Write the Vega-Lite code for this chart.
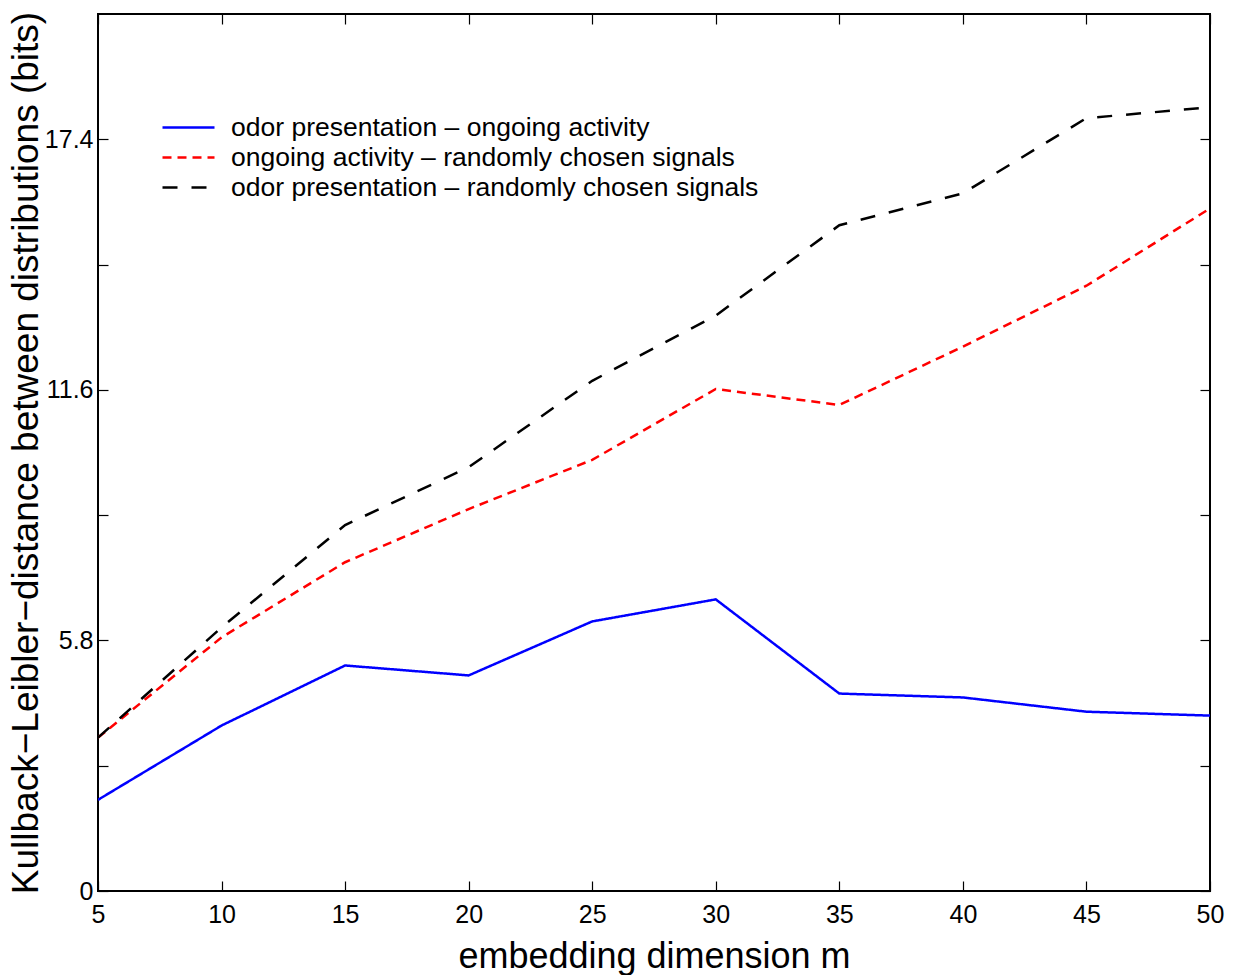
{
  "$schema": "https://vega.github.io/schema/vega-lite/v6.json",
  "width": 1112,
  "height": 877,
  "autosize": "none",
  "padding": {"left": 98, "top": 14, "right": 28, "bottom": 84},
  "background": "white",
  "config": {
    "font": "Liberation Sans",
    "view": {"stroke": "black", "strokeWidth": 2},
    "axis": {
      "domain": false,
      "grid": false,
      "ticks": true,
      "tickColor": "black",
      "tickSize": -10,
      "tickWidth": 1.2,
      "labelFont": "Liberation Sans",
      "labelFontSize": 25,
      "labelColor": "black",
      "labelFlush": false,
      "titleFont": "Liberation Sans",
      "titleFontSize": 36,
      "titleFontWeight": "normal",
      "titleColor": "black"
    }
  },
  "data": {
    "values": [
      {"m": 5, "kl": 2.11, "series": "odor presentation – ongoing activity"},
      {"m": 10, "kl": 3.83, "series": "odor presentation – ongoing activity"},
      {"m": 15, "kl": 5.22, "series": "odor presentation – ongoing activity"},
      {"m": 20, "kl": 4.99, "series": "odor presentation – ongoing activity"},
      {"m": 25, "kl": 6.24, "series": "odor presentation – ongoing activity"},
      {"m": 30, "kl": 6.75, "series": "odor presentation – ongoing activity"},
      {"m": 35, "kl": 4.57, "series": "odor presentation – ongoing activity"},
      {"m": 40, "kl": 4.48, "series": "odor presentation – ongoing activity"},
      {"m": 45, "kl": 4.15, "series": "odor presentation – ongoing activity"},
      {"m": 50, "kl": 4.06, "series": "odor presentation – ongoing activity"},
      {"m": 5, "kl": 3.55, "series": "ongoing activity – randomly chosen signals"},
      {"m": 10, "kl": 5.87, "series": "ongoing activity – randomly chosen signals"},
      {"m": 15, "kl": 7.61, "series": "ongoing activity – randomly chosen signals"},
      {"m": 20, "kl": 8.84, "series": "ongoing activity – randomly chosen signals"},
      {"m": 25, "kl": 9.98, "series": "ongoing activity – randomly chosen signals"},
      {"m": 30, "kl": 11.62, "series": "ongoing activity – randomly chosen signals"},
      {"m": 35, "kl": 11.25, "series": "ongoing activity – randomly chosen signals"},
      {"m": 40, "kl": 12.6, "series": "ongoing activity – randomly chosen signals"},
      {"m": 45, "kl": 14.01, "series": "ongoing activity – randomly chosen signals"},
      {"m": 50, "kl": 15.8, "series": "ongoing activity – randomly chosen signals"},
      {"m": 5, "kl": 3.55, "series": "odor presentation – randomly chosen signals"},
      {"m": 10, "kl": 6.1, "series": "odor presentation – randomly chosen signals"},
      {"m": 15, "kl": 8.47, "series": "odor presentation – randomly chosen signals"},
      {"m": 20, "kl": 9.81, "series": "odor presentation – randomly chosen signals"},
      {"m": 25, "kl": 11.81, "series": "odor presentation – randomly chosen signals"},
      {"m": 30, "kl": 13.32, "series": "odor presentation – randomly chosen signals"},
      {"m": 35, "kl": 15.41, "series": "odor presentation – randomly chosen signals"},
      {"m": 40, "kl": 16.15, "series": "odor presentation – randomly chosen signals"},
      {"m": 45, "kl": 17.89, "series": "odor presentation – randomly chosen signals"},
      {"m": 50, "kl": 18.14, "series": "odor presentation – randomly chosen signals"}
    ]
  },
  "layer": [
    {
      "mark": {"type": "line", "strokeWidth": 2.5, "clip": true},
      "encoding": {
        "x": {
          "field": "m",
          "type": "quantitative",
          "scale": {"domain": [5, 50], "nice": false, "zero": false},
          "axis": {
            "orient": "bottom",
            "title": "embedding dimension m",
            "values": [5, 10, 15, 20, 25, 30, 35, 40, 45, 50],
            "labelFontSize": 25,
            "labelFlush": false,
            "labelPadding": 21,
            "titlePadding": 12,
            "titleFontSize": 36
          }
        },
        "y": {
          "field": "kl",
          "type": "quantitative",
          "scale": {"domain": [0, 20.3], "nice": false},
          "axis": {
            "orient": "left",
            "title": "Kullback−Leibler−distance between distributions (bits)",
            "values": [0, 2.9, 5.8, 8.7, 11.6, 14.5, 17.4],
            "labelExpr": "datum.value == 0 ? '0' : (indexof([5.8, 11.6, 17.4], datum.value) >= 0 ? format(datum.value, '.1f') : '')",
            "labelFontSize": 25,
            "labelFlush": false,
            "labelPadding": 15,
            "titlePadding": -1,
            "titleFontSize": 37
          }
        },
        "color": {
          "field": "series",
          "type": "nominal",
          "scale": {
            "domain": ["odor presentation – ongoing activity", "ongoing activity – randomly chosen signals", "odor presentation – randomly chosen signals"],
            "range": ["#0000ff", "#ff0000", "#000000"]
          },
          "legend": {
            "title": null,
            "orient": "none",
            "legendX": 76,
            "legendY": 99,
            "symbolType": "M-2,0H2",
            "symbolSize": 676,
            "symbolStrokeWidth": 2.5,
            "symbolFillColor": "transparent",
            "labelFontSize": 26.5,
            "labelFont": "Liberation Sans",
            "labelColor": "black",
            "labelOffset": 28,
            "rowPadding": 2,
            "labelLimit": 900
          }
        },
        "strokeDash": {
          "field": "series",
          "type": "nominal",
          "scale": {
            "domain": ["odor presentation – ongoing activity", "ongoing activity – randomly chosen signals", "odor presentation – randomly chosen signals"],
            "range": [[1, 0], [9, 6], [15, 14]]
          },
          "legend": {
            "title": null,
            "orient": "none",
            "legendX": 76,
            "legendY": 99,
            "symbolType": "M-2,0H2",
            "symbolSize": 676,
            "symbolStrokeWidth": 2.5,
            "symbolFillColor": "transparent",
            "labelFontSize": 26.5,
            "labelFont": "Liberation Sans",
            "labelColor": "black",
            "labelOffset": 28,
            "rowPadding": 2,
            "labelLimit": 900
          }
        },
        "detail": {"field": "series", "type": "nominal"}
      }
    },
    {
      "mark": {"type": "line", "strokeOpacity": 0},
      "encoding": {
        "x": {
          "field": "m",
          "type": "quantitative",
          "scale": {"domain": [5, 50], "nice": false, "zero": false},
          "axis": {
            "orient": "top",
            "title": null,
            "labels": false,
            "values": [5, 10, 15, 20, 25, 30, 35, 40, 45, 50]
          }
        },
        "y": {
          "field": "kl",
          "type": "quantitative",
          "scale": {"domain": [0, 20.3], "nice": false},
          "axis": {
            "orient": "right",
            "title": null,
            "labels": false,
            "values": [0, 2.9, 5.8, 8.7, 11.6, 14.5, 17.4]
          }
        },
        "detail": {"field": "series", "type": "nominal"}
      }
    }
  ],
  "resolve": {"scale": {"x": "independent", "y": "independent"}}
}
